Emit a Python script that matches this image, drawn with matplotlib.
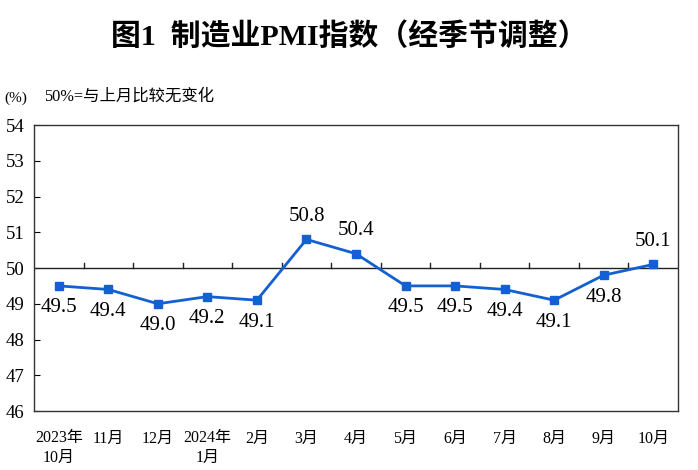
import matplotlib
matplotlib.use("Agg")
import matplotlib.pyplot as plt

months = ["2023年\n10月", "11月", "12月", "2024年\n1月", "2月", "3月", "4月",
          "5月", "6月", "7月", "8月", "9月", "10月"]
pmi = [49.5, 49.4, 49.0, 49.2, 49.1, 50.8, 50.4, 49.5, 49.5, 49.4, 49.1, 49.8, 50.1]

BLUE = "#1260d2"
FONTS = ["Liberation Serif", "Noto Sans CJK SC"]
plt.rcParams["font.family"] = FONTS

fig = plt.figure(figsize=(6.98, 4.70), dpi=100)
ax = fig.add_axes([0.0487, 0.1255, 0.9226, 0.6085])

x = list(range(len(pmi)))
ax.plot(x, pmi, color=BLUE, linewidth=2.0, marker="s", markersize=5.5, zorder=3)

# data labels: above when above 50, below otherwise
for xi, v in zip(x, pmi):
    if v > 50:
        ax.annotate(f"{v:.1f}", (xi, v), xytext=(0, 10), textcoords="offset points",
                    ha="center", va="bottom", fontsize=15)
    else:
        ax.annotate(f"{v:.1f}", (xi, v), xytext=(0, -9), textcoords="offset points",
                    ha="center", va="top", fontsize=15)

ax.set_xlim(-0.5, len(pmi) - 0.5)
ax.set_ylim(46, 54)
ax.set_yticks(range(46, 55))
ax.tick_params(axis="y", direction="in", length=4, labelsize=13.5, pad=7)
ax.set_xticks(x)
ax.set_xticklabels(months, fontsize=11.5, linespacing=1.3)
ax.tick_params(axis="x", length=0, pad=14)
for s in ax.spines.values():
    s.set_color("#333333")
    s.set_linewidth(1.0)

# 50 reference line with small upward ticks at category boundaries
ax.axhline(50, color="#222222", linewidth=1.0, zorder=2)
for b in range(len(pmi) - 1):
    ax.plot([b + 0.5, b + 0.5], [50, 50.13], color="#222222", linewidth=1.0, zorder=2)

fig.text(0.5, 0.922, "图1  制造业PMI指数（经季节调整）", ha="center", va="center",
         fontsize=21.5, fontweight="bold")
fig.text(0.006, 0.79, "(%)", ha="left", va="center", fontsize=11)
fig.text(0.063, 0.795, "50%=与上月比较无变化", ha="left", va="center", fontsize=11.8)

fig.savefig("out.png", dpi=100, facecolor="white")
